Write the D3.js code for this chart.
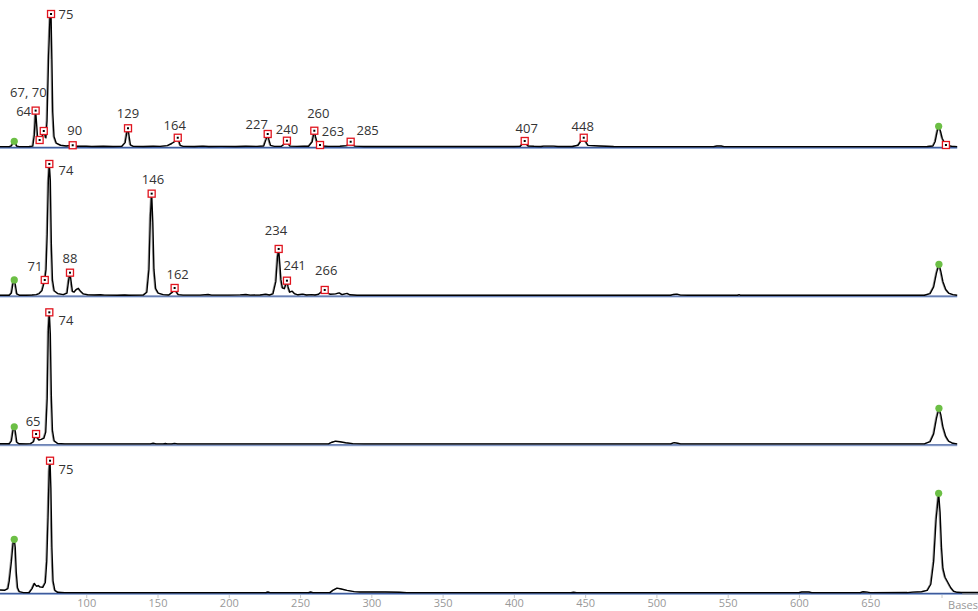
<!DOCTYPE html>
<html>
<head>
<meta charset="utf-8">
<script src="https://cdn.jsdelivr.net/npm/d3@7/dist/d3.min.js"></script>
<style>
  html, body { margin: 0; padding: 0; background: #fff; }
  svg { display: block; }
</style>
</head>
<body>
<svg id="chart" width="978" height="611"></svg>
<script>
// ---------------- DATA ----------------
// Trace samples per panel: [size in bases, signal (RFU)]
const panel1Trace = [[39.5,20],[46,20],[47.5,60],[48.7,250],[49.5,330],[50.3,220],[51.3,50],[53,20],[60,25],[62.5,50],[63.6,700],[64.5,2080],[65.2,1300],[66,400],[67.3,400],[68.3,300],[69.3,650],[70.2,914],[71,700],[71.7,520],[72.5,1500],[73.6,5200],[74.6,7500],[75.3,7600],[75.9,5000],[76.5,2000],[77.4,600],[79,220],[82,100],[86,60],[90.5,100],[93,40],[100,45],[104,30],[112,40],[119,30],[125,35],[127.3,250],[128.4,800],[129.3,1070],[130.1,600],[131,120],[133,35],[140,30],[147,40],[152,35],[157,80],[160,200],[162.5,330],[164.2,530],[165.1,300],[166,90],[168,35],[176,30],[182,50],[186,30],[195,35],[205,30],[212,45],[220,35],[224.5,60],[226.2,450],[227.3,743],[228.2,400],[229.3,90],[232,35],[237,40],[239.5,200],[240.8,360],[241.8,180],[243,50],[248,35],[253,50],[256,40],[258.5,300],[260,930],[260.8,600],[261.8,300],[263,150],[264,114],[265.5,60],[270,35],[278,40],[283,80],[284.5,260],[285.5,300],[286.7,150],[288.5,50],[295,30],[320,25],[360,25],[400,25],[404.5,40],[406.5,220],[407.6,343],[408.5,200],[410,60],[414,40],[419,25],[421,50],[428,50],[431,25],[441,30],[445,100],[447.5,400],[449,530],[450,350],[452,90],[460,60],[470,25],[540,20],[542.5,55],[545.5,55],[547.5,20],[600,20],[660,20],[690,25],[694,60],[695.5,300],[697,900],[698,1183],[699.3,900],[700.5,500],[702,250],[703.1,114],[704.5,80],[707,40],[711,20]];

const panel2Trace = [[39.5,20],[46,25],[47.5,150],[48.6,700],[49.5,897],[50.3,600],[51.3,100],[53,25],[58,25],[62,40],[65,60],[67,120],[69,300],[70.9,897],[71.8,1500],[72.6,3500],[73.4,6500],[74.1,7526],[74.8,6600],[75.5,3000],[76.3,900],[77.5,280],[80,120],[84,60],[86.5,150],[87.7,900],[88.6,1314],[89.4,800],[90.3,250],[91.5,200],[93,350],[94.5,420],[96,250],[98,100],[101,50],[106,40],[110,55],[113,30],[122,25],[127,40],[130,25],[140,30],[142.5,200],[144,1500],[145,4500],[145.9,5830],[146.7,4200],[147.5,1500],[148.7,400],[150.5,150],[154,60],[158,40],[160.5,200],[162,440],[163,250],[164.5,60],[168,30],[180,30],[185.5,70],[188,30],[200,30],[208,45],[212,70],[215,30],[222,40],[226,80],[228.5,40],[231,100],[233,800],[234.2,2200],[235,2670],[235.8,1800],[236.6,900],[237.6,450],[239,400],[240.8,857],[241.6,500],[242.8,200],[244.5,260],[246,120],[248.5,50],[252,90],[254.5,40],[258,60],[260.5,40],[263,80],[265.5,250],[267.3,326],[269,180],[271,80],[275,100],[277.5,160],[279.5,60],[283,130],[285,50],[290,20],[350,20],[400,25],[450,20],[510,25],[512,70],[514.5,90],[517,30],[522,20],[557,20],[558,60],[559,20],[600,20],[660,20],[688,25],[692,120],[694.5,500],[696.5,1300],[698.2,1794],[699.5,1400],[701,800],[703,350],[705,150],[708,60],[711,25]];

const panel3Trace = [[39.5,30],[46,30],[47.5,200],[48.6,800],[49.5,1006],[50.3,700],[51.3,120],[53,30],[58,25],[61,40],[63,150],[64,450],[64.8,590],[65.6,380],[66.8,250],[68.5,280],[70.3,350],[71.6,700],[72.6,2600],[73.4,6500],[74.1,7543],[74.8,6300],[75.5,2800],[76.3,800],[77.5,200],[80,50],[85,25],[145,25],[147,60],[149,25],[154,25],[155.5,45],[157,25],[160,25],[162,55],[164,25],[270,25],[272.5,120],[275,180],[278,150],[282,90],[287,40],[295,25],[510,25],[512.5,100],[515,60],[517,25],[600,25],[660,25],[688,25],[692,150],[694.5,600],[696.5,1500],[698.2,2057],[699.5,1700],[701,1000],[703,450],[705,180],[708,60],[711,25]];

const panel4Trace = [[39.5,170],[43,160],[45,250],[46,700],[47.5,1800],[48.6,2800],[49.5,3070],[50.2,2600],[50.9,1200],[51.8,300],[53,80],[56,20],[60,30],[62,250],[63.6,550],[64.5,450],[65.3,380],[66.3,430],[67.5,350],[69.5,320],[71.3,600],[72.3,1800],[73.2,4300],[74,7000],[74.6,7560],[75.2,6000],[75.9,2600],[76.7,700],[78,150],[80,40],[85,20],[226,20],[227.5,60],[229,20],[256,20],[257.5,60],[259,20],[271,20],[273,150],[276,280],[279,230],[283,150],[288,80],[292,60],[300,60],[310,55],[320,40],[325,20],[440,20],[442,40],[444,20],[600,20],[602,60],[607,60],[609,20],[643,20],[645,70],[648,50],[650,20],[676,25],[680,50],[686,70],[690,150],[692.5,500],[694.5,1800],[696.2,4200],[698,5700],[699,4600],[700,2600],[701,1400],[702.5,900],[704.5,600],[706.5,300],[708.5,100],[711,40],[714,30],[725.6,30]];

// Called peaks: [size, signal, label]
const panel1Peaks = [[64.5,2080,"64"],[67.3,400,""],[70.2,914,"67, 70"],[75.3,7600,"75"],[90.5,100,"90"],[129.3,1070,"129"],[164.2,530,"164"],[227.3,743,"227"],[240.8,360,"240"],[260,930,"260"],[264,114,"263"],[285.5,300,"285"],[407.6,343,"407"],[449,530,"448"],[703.1,114,""]];
const panel2Peaks = [[70.9,897,"71"],[74.1,7526,"74"],[88.6,1314,"88"],[145.9,5830,"146"],[162,440,"162"],[235,2670,"234"],[240.8,857,"241"],[267.3,326,"266"]];
const panel3Peaks = [[64.8,590,"65"],[74.1,7543,"74"]];
const panel4Peaks = [[74.6,7560,"75"]];

// Size-standard marker peaks (green): [size, signal]
const panel1Std = [[49.5,330],[698,1183]];
const panel2Std = [[49.5,897],[698.2,1794]];
const panel3Std = [[49.5,1006],[698.2,2057]];
const panel4Std = [[49.5,3070],[698,5700]];

const tickValues = [100,150,200,250,300,350,400,450,500,550,600,650,700];
const tickLabels = ["100","150","200","250","300","350","400","450","500","550","600","650",""];
const axisTitle = "Bases";

// ---------------- LAYOUT (positions/styles, not data) ----------------
const W = 978, H = 611;
const firstBaseline = 147, panelStep = 148.67, panelHeightPx = 140;
const traceEnd = [711, 711, 711, 725.6];
const baselineEnd = [711, 711, 711, 714.5];
// label nudges [dx, dy] of label centre relative to its marker
const labelNudges = [
  [[-12,0],[0,0],[-15.4,-39],[15,0],[2,-15],[0,-15],[-3,-12.4],[-11,-10],[0,-12],[4,-17.7],[13,-14],[17,-11.4],[2,-12.7],[-1,-11.7],[0,0]],
  [[-9.7,-14],[16.7,6],[0,-14.7],[1.3,-14.7],[3,-14],[-2.7,-19],[7.7,-15.4],[1.5,-20.3]],
  [[-3,-12.7],[16.7,7.2]],
  [[16,8]]
];

const panels = [
  {trace: panel1Trace, peaks: panel1Peaks, std: panel1Std},
  {trace: panel2Trace, peaks: panel2Peaks, std: panel2Std},
  {trace: panel3Trace, peaks: panel3Peaks, std: panel3Std},
  {trace: panel4Trace, peaks: panel4Peaks, std: panel4Std}
];

const svg = d3.select("#chart");
const x = d3.scaleLinear().domain([39.5, 725.6]).range([0, W]);

// Axis
const axisY = 594;
svg.append("line").attr("x1",0).attr("x2",W).attr("y1",axisY).attr("y2",axisY)
  .attr("stroke","#9aa3b5").attr("stroke-width",2);
const axis = d3.axisBottom(x).tickValues(tickValues).tickSize(3)
  .tickFormat((d,i) => tickLabels[i]);
const gAxis = svg.append("g").attr("transform",`translate(0,${axisY+1})`).call(axis);
gAxis.select(".domain").remove();
gAxis.selectAll(".tick line").attr("stroke","#c8c8c8");
gAxis.selectAll(".tick text").attr("fill","#999").attr("font-size","11px")
  .attr("font-family","'Open Sans', 'Noto Sans', sans-serif").attr("dy","0.55em");
svg.append("text").attr("x",W).attr("y",609).attr("text-anchor","end")
  .attr("fill","#999").attr("font-size","11px")
  .attr("font-family","'Open Sans', 'Noto Sans', sans-serif").text(axisTitle);

panels.forEach((p, i) => {
  const base = firstBaseline + i*panelStep;
  const y = d3.scaleLinear().domain([0, 8000]).range([base, base - panelHeightPx]);
  const g = svg.append("g");

  // baseline
  g.append("line").attr("x1",0).attr("x2",x(baselineEnd[i]))
    .attr("y1",base+1.5).attr("y2",base+1.5)
    .attr("stroke","#b3c6e6").attr("stroke-width",1);
  g.append("line").attr("x1",0).attr("x2",x(baselineEnd[i]))
    .attr("y1",base+0.5).attr("y2",base+0.5)
    .attr("stroke","#3e5b9c").attr("stroke-width",1.4);

  const line = d3.line().x(d => x(d[0])).y(d => y(d[1]));
  const data = p.trace.filter(d => d[0] <= traceEnd[i]);
  // soft left edge
  g.append("path").datum(data).attr("d", line)
    .attr("fill","none").attr("stroke","#9a9a9a").attr("stroke-width",1)
    .attr("transform","translate(-1,0)");
  g.append("path").datum(data).attr("d", line)
    .attr("fill","none").attr("stroke","#000").attr("stroke-width",1.4)
    .attr("stroke-linejoin","round");

  // size standard dots
  g.selectAll("circle.std").data(p.std).enter().append("circle")
    .attr("cx", d => x(d[0])).attr("cy", d => y(d[1])).attr("r",3.6)
    .attr("fill","#6cbf45");

  // peak markers
  const pk = g.selectAll("g.pk").data(p.peaks).enter().append("g");
  pk.append("rect")
    .attr("x", d => x(d[0]) - 3.5).attr("y", d => y(d[1]) - 3.5)
    .attr("width",7).attr("height",7)
    .attr("fill","#fff").attr("stroke","#e0141e").attr("stroke-width",1.3);
  pk.append("rect")
    .attr("x", d => x(d[0]) - 1).attr("y", d => y(d[1]) - 1)
    .attr("width",2).attr("height",2).attr("fill","#000");
  pk.filter(d => d[2] !== "").append("text")
    .attr("x", d => x(d[0]) + labelNudges[i][p.peaks.indexOf(d)][0])
    .attr("y", d => y(d[1]) + labelNudges[i][p.peaks.indexOf(d)][1])
    .attr("text-anchor","middle").attr("dominant-baseline","central")
    .attr("font-family","'Open Sans', 'Noto Sans', sans-serif")
    .attr("font-size","13px").attr("fill","#333")
    .text(d => d[2]);
});
</script>
</body>
</html>
